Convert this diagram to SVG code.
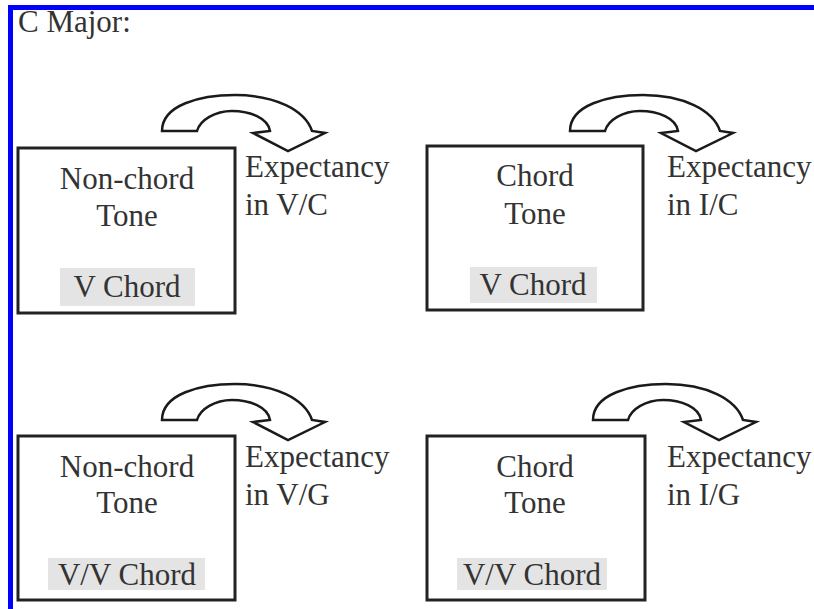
<svg xmlns="http://www.w3.org/2000/svg" width="814" height="609" viewBox="0 0 814 609">
<style>
text{font-family:'Liberation Serif','DejaVu Serif',serif;font-size:31px;fill:#333}
.c{text-anchor:middle}
.box{fill:#fff;stroke:#222;stroke-width:3}
.hl{fill:#e4e4e4}
.arr{fill:#fff;stroke:#1a1a1a;stroke-width:2.5;stroke-linejoin:miter}
</style>
<defs>
<path id="curve" class="arr" d="M162,131 C162,105 200,95 235,95 C275,95 305,110 312,131 L325,133 L288,151 L253,133 L270,131 C268,118 250,111 232,111 C215,111 200,120 197,131 Z"/>
</defs>
<rect x="0" y="0" width="814" height="609" fill="#fff"/>
<rect x="10.5" y="7.5" width="820" height="620" fill="none" stroke="#0000ff" stroke-width="5"/>
<text font-family="Liberation Serif, serif" x="18" y="32">C Major:</text>
<g id="connectors">
<use href="#curve"/>
<use href="#curve" transform="translate(408,0)"/>
<use href="#curve" transform="translate(0,289)"/>
<use href="#curve" transform="translate(431,289)"/>
</g>
<g id="node1" font-family="Liberation Serif, serif">
<rect class="box" x="18" y="148" width="217" height="165"/>
<text class="c" x="127" y="189">Non-chord</text>
<text class="c" x="127" y="226">Tone</text>
<rect class="hl" x="60" y="268" width="135" height="38"/>
<text class="c" x="127" y="297">V Chord</text>
</g>
<g id="label1">
<text x="245" y="177">Expectancy</text>
<text x="245" y="215">in V/C</text>
</g>
<g id="node2">
<rect class="box" x="427" y="146" width="216" height="164"/>
<text class="c" x="535" y="186">Chord</text>
<text class="c" x="535" y="224">Tone</text>
<rect class="hl" x="470" y="267" width="127" height="36"/>
<text class="c" x="533" y="295">V Chord</text>
</g>
<g id="label2">
<text x="667" y="177">Expectancy</text>
<text x="667" y="215">in I/C</text>
</g>
<g id="node3">
<rect class="box" x="18" y="436" width="217" height="164"/>
<text class="c" x="127" y="477">Non-chord</text>
<text class="c" x="127" y="513">Tone</text>
<rect class="hl" x="48" y="558" width="157" height="32"/>
<text class="c" x="127" y="585">V/V Chord</text>
</g>
<g id="label3">
<text x="245" y="467">Expectancy</text>
<text x="245" y="505">in V/G</text>
</g>
<g id="node4">
<rect class="box" x="427" y="436" width="218" height="164"/>
<text class="c" x="535" y="477">Chord</text>
<text class="c" x="535" y="513">Tone</text>
<rect class="hl" x="457" y="558" width="150" height="32"/>
<text class="c" x="532" y="585">V/V Chord</text>
</g>
<g id="label4">
<text x="667" y="467">Expectancy</text>
<text x="667" y="505">in I/G</text>
</g>
</svg>
